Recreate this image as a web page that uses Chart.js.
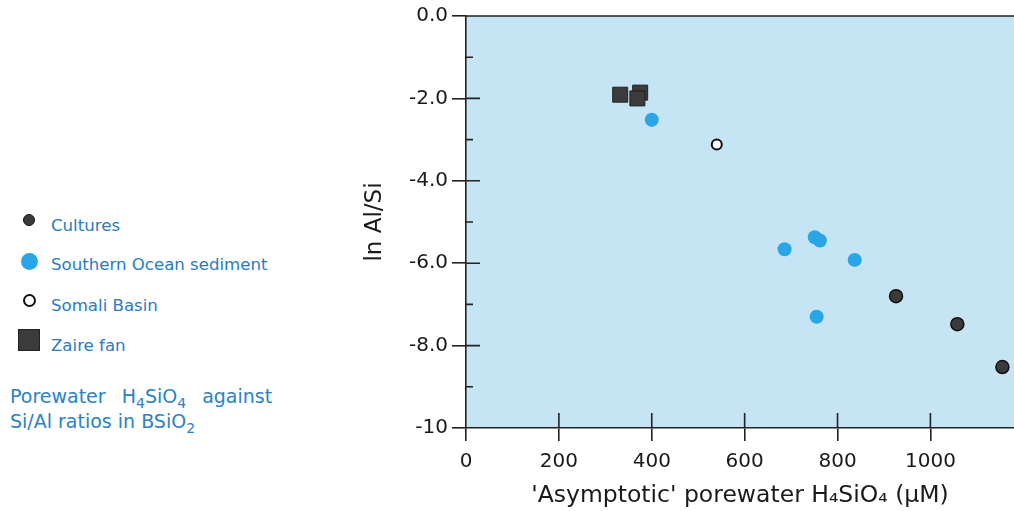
<!DOCTYPE html>
<html>
<head>
<meta charset="utf-8">
<script src="https://cdn.jsdelivr.net/npm/chart.js@4/dist/chart.umd.min.js"></script>
<style>
  html, body { margin: 0; padding: 0; background: #fff; overflow: hidden; }
  body { width: 1014px; height: 511px; position: relative; font-family: "DejaVu Sans", sans-serif; }
  #plot { position: absolute; left: 361px; top: 0; width: 653px; height: 511px; }
  #key { position: absolute; left: 0; top: 0; width: 330px; color: #2a7bbf; }
  .row { position: absolute; left: 51px; font-size: 16.6px; line-height: 20px; white-space: nowrap; }
  .mark { position: absolute; box-sizing: border-box; }
  #caption { position: absolute; left: 10px; top: 384px; font-size: 19px; line-height: 25px; color: #2b82c4; white-space: nowrap; }
  #caption .w { word-spacing: 10px; }
  sub { font-size: 14px; vertical-align: -5px; line-height: 0; }
</style>
</head>
<body>
<div id="key"></div>
<div id="caption"><span class="w">Porewater H<sub>4</sub>SiO<sub>4</sub> against</span><br>Si/Al ratios in BSiO<sub>2</sub></div>
<div id="plot"><canvas id="chart"></canvas></div>
<script>
// series names, in legend order
const seriesNames = ['Cultures', 'Southern Ocean sediment', 'Somali Basin', 'Zaire fan'];

// asymptotic porewater H4SiO4 (uM) and ln Al/Si for each series
const culturesX = [926, 1058, 1155];
const culturesY = [-6.80, -7.48, -8.52];
const southernX = [400, 686, 751, 762, 837, 755];
const southernY = [-2.52, -5.66, -5.37, -5.45, -5.92, -7.30];
const somaliX = [540];
const somaliY = [-3.12];
const zaireX = [332, 375, 369];
const zaireY = [-1.91, -1.86, -2.00];

const xTickValues = [0, 200, 400, 600, 800, 1000];
const yTickLabels = ['-10', '-8.0', '-6.0', '-4.0', '-2.0', '0.0'];

function pts(xs, ys) {
  return xs.map((x, i) => ({ x: x, y: ys[i] }));
}

const styles = [
  { pointStyle: 'circle', radius: 6.5, backgroundColor: '#3a3a3a', borderColor: '#111', borderWidth: 1.5 },
  { pointStyle: 'circle', radius: 7, backgroundColor: '#2aa5e6', borderColor: '#2aa5e6', borderWidth: 0 },
  { pointStyle: 'circle', radius: 5, backgroundColor: '#ffffff', borderColor: '#111', borderWidth: 2 },
  { pointStyle: 'rect', radius: 10.6, backgroundColor: '#3b3b3b', borderColor: '#222', borderWidth: 1 }
];
const seriesData = [pts(culturesX, culturesY), pts(southernX, southernY), pts(somaliX, somaliY), pts(zaireX, zaireY)];

// html key on the left
const keyRows = [226, 265, 306, 346];
const keyMarks = [
  { size: 12, cy: 220, radius: '50%', bg: '#3a3a3a', border: '1px solid #111' },
  { size: 17, cy: 261, radius: '50%', bg: '#2aa5e6', border: 'none' },
  { size: 13, cy: 300, radius: '50%', bg: '#fff', border: '2.5px solid #111' },
  { size: 22, cy: 340, radius: '0', bg: '#3b3b3b', border: '1px solid #222' }
];
const key = document.getElementById('key');
seriesNames.forEach((name, i) => {
  const m = keyMarks[i];
  const mark = document.createElement('div');
  mark.className = 'mark';
  mark.style.cssText = `left:${29 - m.size / 2}px;top:${m.cy - m.size / 2}px;width:${m.size}px;height:${m.size}px;` +
    `border-radius:${m.radius};background:${m.bg};border:${m.border};`;
  key.appendChild(mark);
  const row = document.createElement('div');
  row.className = 'row';
  row.style.top = (keyRows[i] - 10) + 'px';
  row.textContent = name;
  key.appendChild(row);
});

const axisColor = '#222';
const textFont = 'DejaVu Sans';

// light blue plot area and the frame line along the top
const framePlugin = {
  id: 'frame',
  beforeDraw(chart) {
    const a = chart.chartArea;
    const ctx = chart.ctx;
    ctx.save();
    ctx.fillStyle = '#c5e4f4';
    ctx.fillRect(a.left, a.top, a.right - a.left, a.bottom - a.top);
    ctx.restore();
  },
  afterDraw(chart) {
    const a = chart.chartArea;
    const ctx = chart.ctx;
    const xs = chart.scales.x, ys = chart.scales.y;
    ctx.save();
    ctx.strokeStyle = axisColor;
    ctx.lineWidth = 1.6;
    ctx.beginPath();
    ctx.moveTo(a.left, a.top);
    ctx.lineTo(a.right, a.top);
    // inward ticks on the y axis, minor ones every 1.0
    for (let v = -9; v <= -1; v++) {
      const py = ys.getPixelForValue(v);
      const len = v % 2 === 0 ? 14 : 7;
      ctx.moveTo(a.left, py);
      ctx.lineTo(a.left + len, py);
    }
    // inward ticks on the x axis
    xTickValues.forEach(v => {
      if (v === 0) return;
      const px = xs.getPixelForValue(v);
      ctx.moveTo(px, a.bottom);
      ctx.lineTo(px, a.bottom - 15);
    });
    ctx.stroke();
    ctx.restore();
  }
};

const ctx = document.getElementById('chart').getContext('2d');
const chart = new Chart(ctx, {
  type: 'scatter',
  data: {
    datasets: seriesNames.map((name, i) => ({
      label: name,
      data: seriesData[i],
      pointStyle: styles[i].pointStyle,
      pointRadius: styles[i].radius,
      pointHoverRadius: styles[i].radius,
      backgroundColor: styles[i].backgroundColor,
      borderColor: styles[i].borderColor,
      pointBorderWidth: styles[i].borderWidth
    }))
  },
  options: {
    responsive: true,
    maintainAspectRatio: false,
    animation: false,
    layout: { autoPadding: false, padding: { top: 13, right: 0, left: 0, bottom: 0 } },
    plugins: { legend: { display: false }, tooltip: { enabled: false } },
    scales: {
      x: {
        type: 'linear',
        min: 0,
        max: 1180,
        afterBuildTicks: (scale) => { scale.ticks = xTickValues.map(v => ({ value: v })); },
        afterFit: (scale) => { scale.height = 83; scale.paddingRight = 0; scale.paddingLeft = 0; },
        ticks: { autoSkip: false, color: '#1a1a1a', padding: 9, maxRotation: 0,
          callback: (v) => String(v),
          font: { family: textFont, size: 20 } },
        grid: { drawOnChartArea: false, drawTicks: true, tickLength: 13, color: axisColor, lineWidth: 1.6 },
        border: { display: true, color: axisColor, width: 1.6 },
        title: { display: true, text: '\'Asymptotic\' porewater H\u2084SiO\u2084 (\u03bcM)', color: '#1a1a1a',
          font: { family: textFont, size: 23.5 }, padding: { top: 0, bottom: 1 } }
      },
      y: {
        type: 'linear',
        min: -10,
        max: 0,
        afterFit: (scale) => { scale.width = 105; },
        ticks: { stepSize: 2, autoSkip: false, color: '#1a1a1a', padding: 4,
          callback: (v) => yTickLabels[Math.round((v + 10) / 2)],
          font: { family: textFont, size: 20 } },
        grid: { drawOnChartArea: false, drawTicks: true, tickLength: 14, color: axisColor, lineWidth: 1.6 },
        border: { display: true, color: axisColor, width: 1.6 },
        title: { display: true, text: 'ln Al/Si', color: '#1a1a1a',
          font: { family: textFont, size: 23 }, padding: { top: 0, bottom: 0 } }
      }
    }
  },
  plugins: [framePlugin]
});
</script>
</body>
</html>
